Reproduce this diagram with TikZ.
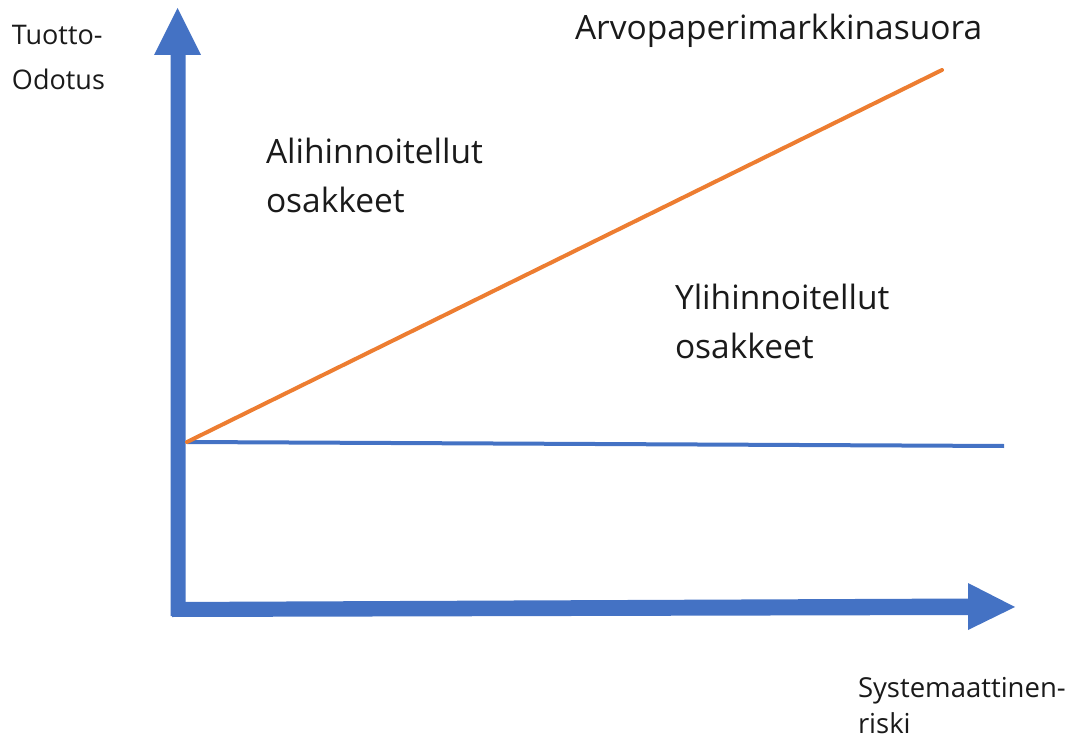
\documentclass[tikz,border=0pt]{standalone}
\usepackage{fontspec}
\setmainfont{Open Sans}
\definecolor{axisblue}{HTML}{4472C4}
\definecolor{smlorange}{HTML}{ED7D31}
\definecolor{txtgray}{HTML}{1A1A1A}
\begin{document}
\begin{tikzpicture}[x=1pt,y=-1pt,
  lbl/.style={anchor=base west,inner sep=0pt,outer sep=0pt,text=txtgray,align=left},
  big/.style={lbl,font=\fontsize{33.5}{49}\selectfont},
  small/.style={lbl,font=\fontsize{27}{45}\selectfont},
  thinline/.style={line width=4pt},
]
\useasboundingbox (0,0) rectangle (1074,738);
% axes
\fill[axisblue] (170.5,616) -- (185.5,616) -- (185.5,55) -- (201,55) -- (177.5,8) -- (154,55) -- (170.5,55) -- cycle;
\fill[axisblue] (172,602) -- (968,598.5) -- (968,583) -- (1015,607) -- (968,630) -- (968,615) -- (172,617) -- cycle;
% reference points
\coordinate (O) at (187,442);
\coordinate (Rf) at (1004,446);
\coordinate (S) at (942,70);
\draw[thinline,axisblue] (O) -- (Rf);
\draw[thinline,smlorange,line cap=round] (O) -- (S);
% labels (anchor at the baseline of the last line)
\node[small] (yl) at (12,90) {Tuotto-\\Odotus};
\node[big] (sml) at (575,40) {Arvopaperimarkkinasuora};
\node[big] (ali) at (266,213) {Alihinnoitellut\\osakkeet};
\node[big] (yli) at (675,358) {Ylihinnoitellut\\osakkeet};
\node[lbl,font=\fontsize{27.5}{36}\selectfont] (xl) at (858,733) {Systemaattinen-\\riski};
\end{tikzpicture}
\end{document}
